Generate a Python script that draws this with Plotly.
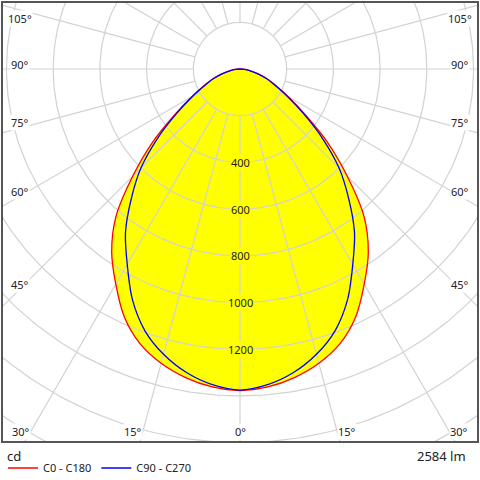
import numpy as np
import plotly.graph_objects as go

# luminous intensity (cd) vs gamma angle, symmetric curves
gamma = [0, 5, 10, 15, 20, 25, 30, 35, 40, 45, 50, 55, 60, 65, 70, 75, 80, 85, 90]
c0_c180 = [1377, 1367, 1342, 1305, 1252, 1172, 1064, 958, 827, 650, 490, 340, 240, 172, 125, 80, 45, 20, 0]
c90_c270 = [1375, 1357, 1320, 1265, 1192, 1090, 966, 855, 724, 600, 460, 330, 235, 165, 120, 80, 45, 20, 0]

rings = [200, 400, 600, 800, 1000, 1200, 1400, 1600, 1800, 2000, 2200]
ring_labels = [400, 600, 800, 1000, 1200]
spokes = list(range(0, 360, 15))
angle_labels = [0, 15, 30, 45, 60, 75, 90, 105]
flux_text = "2584 lm"
unit_text = "cd"
series_names = ["C0 - C180", "C90 - C270"]

W, H = 480, 480
L, R, T, B = 3, 3, 3, 39
pw, ph = W - L - R, H - T - B
s = 46.7 / 200          # px per cd
ox, oy = 237, 66        # origin inside plot area, px
xr = [-ox / s, (pw - ox) / s]
yr = [-(ph - oy) / s, oy / s]


def polar(r, deg):
    a = np.radians(deg)
    return np.asarray(r) * np.sin(a), -np.asarray(r) * np.cos(a)


def full(vals):
    g = np.array(gamma, dtype=float)
    v = np.array(vals, dtype=float)
    ang = np.concatenate([-g[::-1], g[1:]])
    rr = np.concatenate([v[::-1], v[1:]])
    return polar(rr, ang)


fig = go.Figure()

rx, ry = full(c0_c180)
bx, by = full(c90_c270)

fig.add_trace(go.Scatter(x=rx, y=ry, fill="toself", fillcolor="#ffff00",
                         mode="lines", line=dict(width=0, shape="spline", smoothing=0.8),
                         showlegend=False, hoverinfo="skip"))

# grid
gx, gy = [], []
t = np.linspace(0, 360, 361)
for r in rings:
    x, y = polar(r, t)
    gx += list(x) + [None]
    gy += list(y) + [None]
for a in spokes:
    x, y = polar([rings[0], rings[-1]], [a, a])
    gx += list(x) + [None]
    gy += list(y) + [None]
fig.add_trace(go.Scatter(x=gx, y=gy, mode="lines", line=dict(color="#d2d2d2", width=1.2),
                         showlegend=False, hoverinfo="skip"))

fig.add_trace(go.Scatter(x=rx, y=ry, mode="lines", name=series_names[0],
                         line=dict(color="#ff0000", width=1.3, shape="spline", smoothing=0.8)))
fig.add_trace(go.Scatter(x=bx, y=by, mode="lines", name=series_names[1],
                         line=dict(color="#0000ff", width=1.3, shape="spline", smoothing=0.8)))

fnt = dict(family="Noto Sans", size=11, color="#222222")

for v in ring_labels:
    fig.add_annotation(x=0, y=-v, text=str(v), showarrow=False, font=fnt,
                       bgcolor="#ffff00", borderpad=0)

# angle labels at the frame
side = 220 / s
bottom = (ph - oy - 10) / s
for a in angle_labels:
    for sign in ([1] if a == 0 else [-1, 1]):
        if a < 45:
            x = sign * bottom * np.tan(np.radians(a))
            anchor = "center" if a == 0 else ("left" if sign > 0 else "right")
            fig.add_annotation(x=x, y=-bottom, text=f"{a}°", showarrow=False, font=fnt,
                               xanchor=anchor, bgcolor="white", borderpad=0)
        else:
            y = -side / np.tan(np.radians(a))
            y = min(y, yr[1] - 20 / s)
            fig.add_annotation(x=sign * side, y=y, text=f"{a}°", showarrow=False, font=fnt,
                               yshift=5, bgcolor="white", borderpad=0)

fig.add_annotation(xref="paper", yref="paper", x=0.005, y=-15 / ph, text=unit_text,
                   showarrow=False, xanchor="left", yanchor="middle",
                   font=dict(family="Noto Sans", size=13, color="#222222"))
fig.add_annotation(xref="paper", yref="paper", x=(468 - L) / pw, y=-15 / ph, text=flux_text,
                   showarrow=False, xanchor="right", yanchor="middle",
                   font=dict(family="Noto Sans", size=13, color="#222222"))

ax = dict(showgrid=False, zeroline=False, showticklabels=False, ticks="",
          showline=True, mirror=True, linecolor="#555555", linewidth=1.5)
fig.update_layout(width=W, height=H, margin=dict(l=L, r=R, t=T, b=B, autoexpand=False),
                  paper_bgcolor="white", plot_bgcolor="white",
                  xaxis=dict(range=xr, **ax), yaxis=dict(range=yr, **ax),
                  legend=dict(orientation="h", x=0, y=-27 / ph, xanchor="left",
                              yanchor="middle", font=fnt, bgcolor="rgba(0,0,0,0)",
                              itemwidth=30, tracegroupgap=0),
                  hovermode=False)

fig.write_html("out.html", config={"displayModeBar": False},
               post_script="document.body.style.margin='0px';")
